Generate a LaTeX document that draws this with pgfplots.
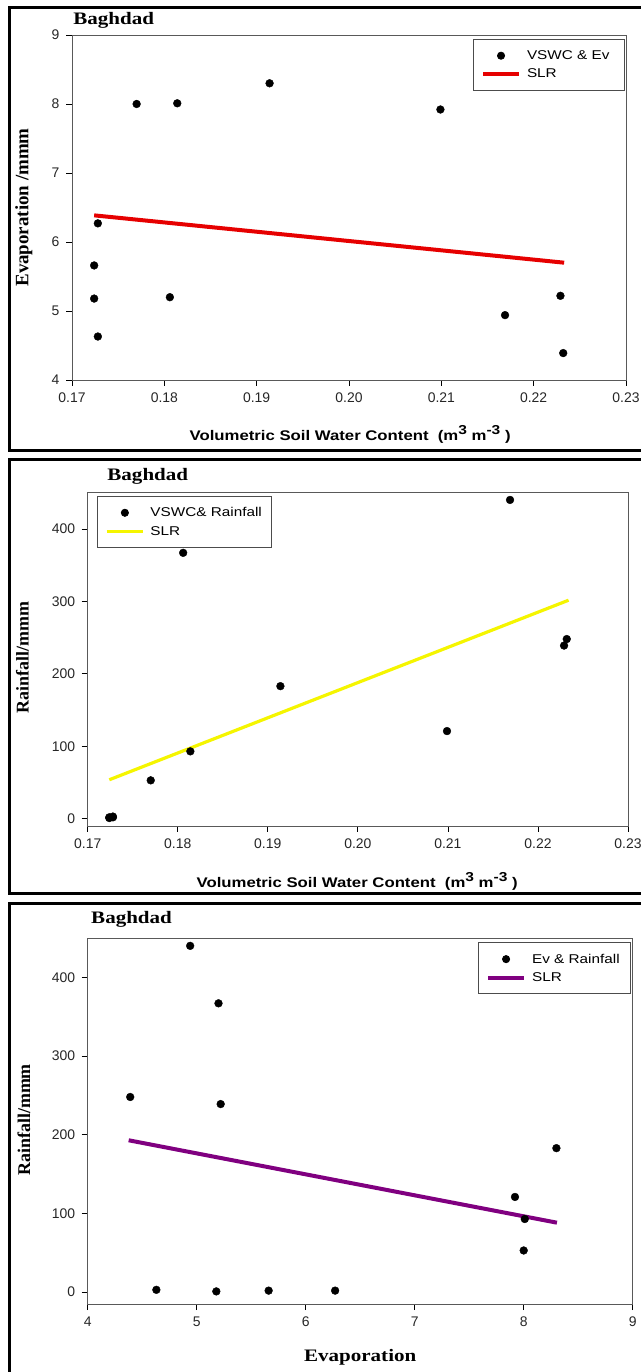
\documentclass[border=0pt]{standalone}
\usepackage{fontspec}
\setmainfont{Liberation Serif}
\setsansfont{Liberation Sans}
\newfontfamily\labelsans[FakeStretch=1.2]{Liberation Sans}
\newfontfamily\labelserif[FakeStretch=1.2]{Liberation Serif}
\usepackage{pgfplots}
\usepackage{pgfplotstable}
\pgfplotsset{compat=1.18}

\pgfplotstableread{
V Ev R
0.1724 5.66 2
0.1724 5.18 1
0.1728 6.27 2
0.1728 4.63 3
0.1770 8.00 53
0.1806 5.20 367
0.1814 8.01 93
0.1914 8.30 183
0.2099 7.92 121
0.2169 4.94 440
0.2229 5.22 239
0.2232 4.39 248
}\data

\pgfplotstableread{
V Ev
0.1724 6.386
0.2233 5.700
}\slrone

\pgfplotstableread{
V R
0.1724 53.8
0.2234 301.6
}\slrtwo

\pgfplotstableread{
Ev R
4.376 193
8.305 88.3
}\slrthree

\definecolor{slrpurple}{RGB}{128,0,128}
\definecolor{slryellow}{RGB}{245,245,0}
\definecolor{slrred}{RGB}{230,0,0}

\newcommand{\sups}[1]{\raisebox{6bp}{\fontsize{13}{13}\selectfont #1}}
\newcommand{\vswclabel}{{\labelsans\bfseries\fontsize{14}{16}\selectfont Volumetric Soil Water Content\ \ (m\sups{3} m\sups{-3}\ )}}

\pgfplotsset{
 panel/.style={
  scale only axis,
  anchor=south west,
  axis line style={draw=black!65, line width=0.8bp},
  every tick/.style={black, line width=0.8bp},
  tick align=outside,
  xtick pos=bottom, ytick pos=left,
  major tick length=6bp,
  ticklabel style={font=\sffamily\fontsize{14}{16}\selectfont, text=black!85},
  xticklabel style={yshift=-3bp},
  yticklabel style={xshift=-3bp},
  /pgf/number format/assume math mode=true,
  title style={font=\labelserif\bfseries\fontsize{17.6}{19}\selectfont, anchor=west, yshift=-6pt},
  ylabel style={font=\bfseries\fontsize{18}{20}\selectfont, anchor=center},
  legend style={draw=black!70, line width=0.8bp, font=\labelsans\fontsize{12.8}{14}\selectfont,
     inner xsep=8bp, inner ysep=9bp, row sep=4bp,
     /tikz/every odd column/.append style={column sep=4bp}},
  legend cell align=left,
 },
 dots/.style={only marks, mark=*, mark size=3.9bp, black,
   legend image code/.code={\fill[black] (18bp,0) circle (3.6bp);}},
 slr/.style={no marks, line width=4bp,
   legend image code/.code={\draw[##1] (0,0) -- (36bp,0);}},
}

\begin{document}
\begin{tikzpicture}
\useasboundingbox (0bp,0bp) rectangle (641bp,1372bp);
% panel frames
\draw[line width=3bp] (9bp,1364bp) rectangle (648bp,921bp);
\draw[line width=3bp] (9bp,912bp) rectangle (648bp,478bp);
\draw[line width=3bp] (9bp,468bp) rectangle (648bp,-8bp);

% Panel 1
\begin{scope}[shift={(72bp,992bp)}]
\begin{axis}[panel, at={(0bp,0bp)}, width=554bp, height=345bp,
  xmin=0.17, xmax=0.23, ymin=4, ymax=9,
  xtick={0.17,0.18,0.19,0.20,0.21,0.22,0.23},
  xticklabels={0.17,0.18,0.19,0.20,0.21,0.22,0.23},
  ytick={4,5,6,7,8,9},
  title={Baghdad}, title style={at={(axis description cs:-0.004,1.043)}},
  xlabel={\vswclabel},
  xlabel style={at={(axis description cs:0.502,-0.159)}, anchor=center},
  ylabel={Evaporation /mmm},
  ylabel style={font=\bfseries\fontsize{19}{21}\selectfont, at={(axis description cs:-0.087,0.5)}},
  legend style={at={(0.998,0.988)}, anchor=north east},
]
\addplot[dots] table[x=V, y=Ev] {\data};
\addlegendentry{VSWC \& Ev\hspace*{5bp}}
\addplot[slr, slrred] table[x=V, y=Ev] {\slrone};
\addlegendentry{SLR}
\end{axis}
\end{scope}

% Panel 2
\begin{scope}[shift={(87.7bp,546bp)}]
\begin{axis}[panel, at={(0bp,0bp)}, width=540.3bp, height=333.3bp,
  xmin=0.17, xmax=0.23, ymin=-10, ymax=450,
  xtick={0.17,0.18,0.19,0.20,0.21,0.22,0.23},
  xticklabels={0.17,0.18,0.19,0.20,0.21,0.22,0.23},
  ytick={0,100,200,300,400},
  title={Baghdad}, title style={at={(axis description cs:0.030,1.048)}},
  xlabel={\vswclabel},
  xlabel style={at={(axis description cs:0.4987,-0.165)}, anchor=center},
  ylabel={Rainfall/mmm},
  ylabel style={at={(axis description cs:-0.121,0.505)}},
  legend style={at={(0.017,0.99)}, anchor=north west},
]
\addplot[dots] table[x=V, y=R] {\data};
\addlegendentry{VSWC\& Rainfall}
\addplot[slr, slryellow, line width=3.2bp] table[x=V, y=R] {\slrtwo};
\addlegendentry{SLR}
\end{axis}
\end{scope}

% Panel 3
\begin{scope}[shift={(87.7bp,68bp)}]
\begin{axis}[panel, at={(0bp,0bp)}, width=545bp, height=366bp,
  xmin=4, xmax=9, ymin=-15, ymax=450,
  xtick={4,5,6,7,8,9},
  ytick={0,100,200,300,400},
  title={Baghdad}, title style={at={(axis description cs:0.0,1.052)}},
  xlabel={Evaporation},
  xlabel style={font=\labelserif\bfseries\fontsize{17.6}{20}\selectfont, at={(axis description cs:0.5,-0.145)}, anchor=center},
  ylabel={Rainfall/mmm},
  ylabel style={at={(axis description cs:-0.117,0.503)}},
  legend style={at={(0.997,0.988)}, anchor=north east},
]
\addplot[dots] table[x=Ev, y=R] {\data};
\addlegendentry{Ev \& Rainfall\hspace*{1bp}}
\addplot[slr, slrpurple] table[x=Ev, y=R] {\slrthree};
\addlegendentry{SLR}
\end{axis}
\end{scope}
\end{tikzpicture}
\end{document}
